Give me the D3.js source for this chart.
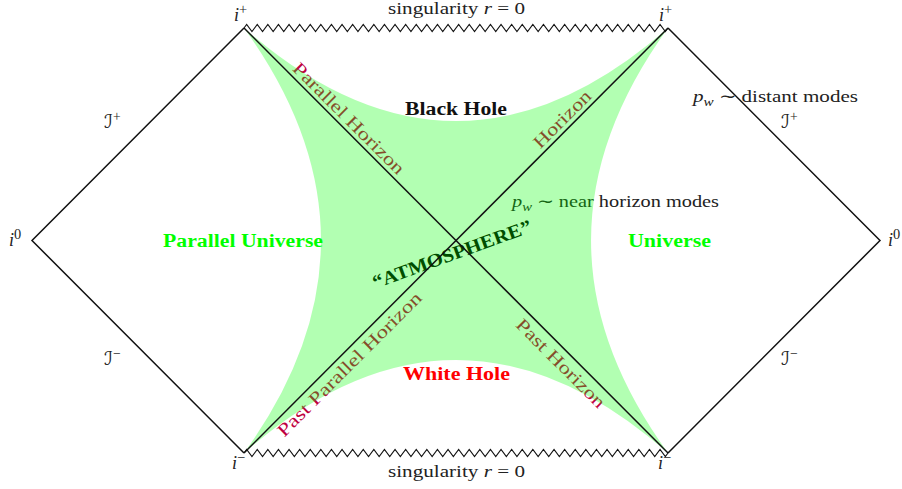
<!DOCTYPE html>
<html>
<head>
<meta charset="utf-8">
<script src="https://cdn.jsdelivr.net/npm/d3@7"></script>
<style>
  html, body { margin: 0; padding: 0; background: #fff; }
  svg { display: block; }
</style>
</head>
<body>
<svg id="chart" width="902" height="489"></svg>
<script>
// Conformal (Penrose) coordinates: X runs left-right, T runs bottom-top.
const leftEdge   = [[-1, 1], [-2, 0], [-1, -1]];           // I+ / I- of the parallel universe
const rightEdge  = [[1, 1], [2, 0], [1, -1]];              // I+ / I- of our universe
const horizonA   = [[-1, 1], [1, -1]];                     // parallel horizon / past horizon
const horizonB   = [[1, 1], [-1, -1]];                     // horizon / past parallel horizon
const singularityTop    = [[-1, 1], [1, 1]];
const singularityBottom = [[-1, -1], [1, -1]];
// How far the atmosphere boundary bows in from each side (in X / T units)
const bowSides = [0.363, 0.363];     // left, right
const bowEnds  = [0.438, 0.438];     // top, bottom

const regionNames  = ["Black Hole", "White Hole", "Parallel Universe", "Universe"];
const horizonNames = ["Parallel Horizon", "Horizon", "Past Parallel Horizon", "Past Horizon"];
const atmosphereName = "\u201CATMOSPHERE\u201D";
const singularityText = ["singularity ", "r", " = 0"];
const modeTexts = ["near horizon modes", "distant modes"];

const svg = d3.select("#chart");

const x = d3.scaleLinear().domain([-2, 2]).range([32, 880]);
const y = d3.scaleLinear().domain([-1, 1]).range([453, 28]);

const serif = "'Liberation Serif', 'Times New Roman', serif";
const purple = "#bf0040";
const green = "#00ff00";

const line = d3.line().x(d => x(d[0])).y(d => y(d[1]));

// ---------- text helper: runs of plain / italic / sub / sup ----------
function mathText(g, parts, px, py, opt) {
  const size = opt.size || 17;
  const t = g.append("text")
    .attr("x", px).attr("y", py)
    .attr("font-family", serif)
    .attr("font-size", size)
    .attr("fill", opt.fill || "#222")
    .attr("font-weight", opt.bold ? "bold" : "normal")
    .attr("text-anchor", opt.anchor || "start");
  if (opt.rotate) t.attr("transform", `rotate(${opt.rotate},${px},${py})`);
  if (opt.len) t.attr("textLength", opt.len).attr("lengthAdjust", "spacingAndGlyphs");
  let shift = 0;
  parts.forEach(p => {
    const s = t.append("tspan").text(p.t);
    if (p.it) s.attr("font-style", "italic");
    if (p.font) s.attr("font-family", p.font);
    if (p.size) s.attr("font-size", p.size);
    let want = 0;
    if (p.sup) { want = -size * 0.4; s.attr("font-size", size * 0.8); }
    if (p.sub) { want = size * 0.25; s.attr("font-size", size * 0.72); }
    if (want !== shift) { s.attr("dy", want - shift); shift = want; }
  });
  return t;
}

// ---------- layers ----------
const under = svg.append("g");   // labels that sit beneath the translucent atmosphere
const fillG = svg.append("g");
const lines = svg.append("g");
const over  = svg.append("g");

// Horizon labels, placed beside their horizon lines
const horizonPlace = [
  { X: -0.526, T: 0.555,  rot: 45,  len: 150 },
  { X: 0.521,  T: 0.551,  rot: -45, len: 74 },
  { X: -0.483, T: -0.602, rot: -45, len: 196 },
  { X: 0.474,  T: -0.598, rot: 45,  len: 118 }
];
horizonNames.forEach((name, i) => {
  const p = horizonPlace[i];
  mathText(under, [{ t: name }], x(p.X), y(p.T),
    { size: 18, fill: purple, anchor: "middle", rotate: p.rot, len: p.len });
});

// "ATMOSPHERE" across the bifurcation point
mathText(under, [{ t: atmosphereName }], x(-0.009), y(-0.092),
  { size: 19, fill: "#000", bold: true, anchor: "middle", rotate: -20, len: 168 });

// p_w ~ near horizon modes
mathText(under, [{ t: "p", it: true }, { t: "w", it: true, sub: true }, { t: " \u223C " }, { t: modeTexts[0] }],
  512, 207, { size: 17, fill: "#222", len: 207 });

// ---------- atmosphere region (four bowed edges) ----------
const TL = [x(-1), y(1)], TR = [x(1), y(1)], BR = [x(1), y(-1)], BL = [x(-1), y(-1)];
const cx = x(0), cy = y(0);
const ctrlTop    = [cx, y(1 - 2 * bowEnds[0])];
const ctrlRight  = [x(1 - 2 * bowSides[1]), cy];
const ctrlBottom = [cx, y(-1 + 2 * bowEnds[1])];
const ctrlLeft   = [x(-1 + 2 * bowSides[0]), cy];
const atm = d3.path();
atm.moveTo(...TL);
atm.quadraticCurveTo(...ctrlTop, ...TR);
atm.quadraticCurveTo(...ctrlRight, ...BR);
atm.quadraticCurveTo(...ctrlBottom, ...BL);
atm.quadraticCurveTo(...ctrlLeft, ...TL);
atm.closePath();
fillG.append("path").attr("d", atm.toString())
  .attr("fill", green).attr("fill-opacity", 0.3).attr("stroke", "none");

// ---------- boundaries ----------
[leftEdge, rightEdge, horizonA, horizonB].forEach(seg => {
  lines.append("path").attr("d", line(seg))
    .attr("fill", "none").attr("stroke", "#111").attr("stroke-width", 1.5)
    .attr("stroke-linejoin", "miter");
});

function zigzag(seg, n, amp) {
  const x0 = x(seg[0][0]), x1 = x(seg[1][0]), yy = y(seg[0][1]);
  const step = (x1 - x0) / n;
  const pts = [[x0, yy]];
  for (let i = 0; i < n; i++) {
    pts.push([x0 + (i + 0.25) * step, yy - amp]);
    pts.push([x0 + (i + 0.75) * step, yy + amp]);
  }
  pts.push([x1, yy]);
  return d3.line()(pts);
}
[singularityTop, singularityBottom].forEach(seg => {
  lines.append("path").attr("d", zigzag(seg, 40, 3.6))
    .attr("fill", "none").attr("stroke", "#111").attr("stroke-width", 1.1);
});

// ---------- labels on top ----------
const sing = [{ t: singularityText[0] }, { t: singularityText[1], it: true }, { t: singularityText[2] }];
mathText(over, sing, 456.5, 14, { size: 16.5, anchor: "middle", len: 137 });
mathText(over, sing, 456.5, 477, { size: 16.5, anchor: "middle", len: 137 });

// corner points i+, i-, i0
const cornerTags = [
  { b: "i", s: "+", px: 234, py: 21 }, { b: "i", s: "+", px: 659, py: 21 },
  { b: "i", s: "\u2212", px: 232, py: 469 }, { b: "i", s: "\u2212", px: 658, py: 469 },
  { b: "i", s: "0", px: 9, py: 246 }, { b: "i", s: "0", px: 888, py: 246 }
];
cornerTags.forEach(c => {
  mathText(over, [{ t: c.b, it: true }, { t: c.s, sup: true }], c.px, c.py, { size: 18 });
});

// null infinities
const scri = "\u2110";
const scriTags = [
  { s: "+", px: 104, py: 128 }, { s: "\u2212", px: 104, py: 365 },
  { s: "+", px: 781, py: 128 }, { s: "\u2212", px: 781, py: 365 }
];
scriTags.forEach(c => {
  mathText(over, [{ t: scri, it: true, font: "'DejaVu Serif', 'DejaVu Sans', serif", size: 19 }, { t: c.s, sup: true }],
    c.px, c.py, { size: 17 });
});

// p_w ~ distant modes
mathText(over, [{ t: "p", it: true }, { t: "w", it: true, sub: true }, { t: " \u223C " }, { t: modeTexts[1] }],
  693, 102, { size: 17, len: 165 });

// region names
mathText(over, [{ t: regionNames[0] }], 456, 115, { size: 18, bold: true, fill: "#111", anchor: "middle", len: 102 });
mathText(over, [{ t: regionNames[1] }], 456.5, 380, { size: 18, bold: true, fill: "#ff0000", anchor: "middle", len: 107 });
mathText(over, [{ t: regionNames[2] }], 243, 246.5, { size: 18, bold: true, fill: green, anchor: "middle", len: 160 });
mathText(over, [{ t: regionNames[3] }], 669.5, 246.5, { size: 18, bold: true, fill: green, anchor: "middle", len: 83 });
</script>
</body>
</html>
